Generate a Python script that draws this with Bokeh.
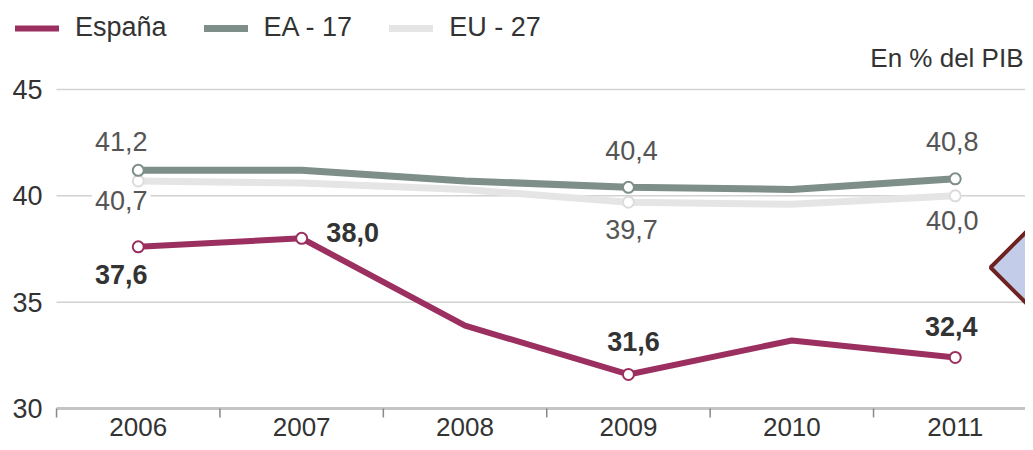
from bokeh.plotting import figure
from bokeh.models import ColumnDataSource, Legend, LegendItem, Label, Range1d
from bokeh.core.properties import value
from bokeh.embed import file_html
from bokeh.resources import INLINE

# ---------------- data ----------------
years = [2006, 2007, 2008, 2009, 2010, 2011]
espana = [37.6, 38.0, 33.9, 31.6, 33.2, 32.4]
ea17 = [41.2, 41.2, 40.7, 40.4, 40.3, 40.8]
eu27 = [40.7, 40.6, 40.3, 39.7, 39.6, 40.0]
espana_marked = [2006, 2007, 2009, 2011]
ea17_marked = [2006, 2009, 2011]
eu27_marked = [2006, 2009, 2011]
y_ticks = [30, 35, 40, 45]
series_names = ["España", "EA - 17", "EU - 27"]
unit_note = "En % del PIB"

# ---------------- styles ----------------
FONT = "Liberation Sans"
FS = "27px"
C_ES = "#9b3060"
C_EA = "#7e8e89"
C_EU = "#e5e5e5"
# label offsets (px) per marked point: (dx, dy), dy positive = down
off_es = [(-17, 28), (51, -6), (5, -33), (-4, -31)]
off_ea = [(-17, -29), (3, -37), (-3, -37)]
off_eu = [(-17, 20), (3, 27), (-3, 25)]

X0, X1 = 2005.5, 2011.43          # plotted span (category boundaries)
TICK_LEN = 0.42                   # tick mark length below baseline (y units)


def fmt(v):
    return f"{v:.1f}".replace(".", ",")


def marked(vals, marks, offs):
    xs = [y for y in years if y in marks]
    ys = [vals[years.index(y)] for y in xs]
    return ColumnDataSource(dict(
        x=xs, y=ys, t=[fmt(v) for v in ys],
        dx=[o[0] for o in offs], dy=[o[1] for o in offs]))


p = figure(width=1025, height=442, output_backend="svg", toolbar_location=None,
           x_range=Range1d(2005.157, X1), y_range=Range1d(28.401, 49.185),
           min_border_left=0, min_border_right=0, min_border_top=0,
           min_border_bottom=0)
p.outline_line_color = None
p.background_fill_color = "white"
p.border_fill_color = "white"
p.xaxis.visible = False
p.yaxis.visible = False
p.xgrid.grid_line_color = None
p.ygrid.grid_line_color = None

base = y_ticks[0]

# horizontal grid lines + baseline
grid_src = ColumnDataSource(dict(y=y_ticks[1:], x0=[X0] * 3, x1=[X1] * 3))
p.segment("x0", "y", "x1", "y", source=grid_src, line_color="#d2d2d2", line_width=1.5)
p.segment(X0, base, X1, base, line_color="#c4c4c4", line_width=3)

# x tick marks at category boundaries, labels at years
bounds = [y - 0.5 for y in years]
tick_src = ColumnDataSource(dict(x=bounds, y0=[base] * len(bounds),
                                 y1=[base - TICK_LEN] * len(bounds)))
p.segment("x", "y0", "x", "y1", source=tick_src, line_color="#888888", line_width=1.5)
xlab_src = ColumnDataSource(dict(x=years, y=[base] * len(years), t=[str(y) for y in years]))
p.text("x", "y", text="t", source=xlab_src, y_offset=19, text_align="center",
       text_baseline="middle", text_font=value(FONT), text_font_size="26px",
       text_color="#333333")

# y tick labels
ylab_src = ColumnDataSource(dict(x=[X0] * len(y_ticks), y=y_ticks, t=[str(v) for v in y_ticks]))
p.text("x", "y", text="t", source=ylab_src, x_offset=-14, text_align="right",
       text_baseline="middle", text_font=value(FONT), text_font_size=FS,
       text_color="#333333")

# decoration at the right edge
p.patch([2011.216, 2011.522, 2011.828, 2011.522], [36.63, 38.98, 36.63, 34.28],
        fill_color="#c3cde9", line_color="#6e2222", line_width=4)

# lines
r_eu = p.line(years, eu27, line_color=C_EU, line_width=7, line_join="round", line_cap="round")
r_ea = p.line(years, ea17, line_color=C_EA, line_width=7, line_join="round", line_cap="round")
r_es = p.line(years, espana, line_color=C_ES, line_width=6, line_join="round", line_cap="round")

s_eu = marked(eu27, eu27_marked, off_eu)
s_ea = marked(ea17, ea17_marked, off_ea)
s_es = marked(espana, espana_marked, off_es)

p.scatter("x", "y", source=s_eu, size=11, fill_color="white", line_color="#dcdcdc", line_width=2)
p.scatter("x", "y", source=s_ea, size=11, fill_color="white", line_color=C_EA, line_width=2)
p.scatter("x", "y", source=s_es, size=11, fill_color="white", line_color=C_ES, line_width=2)

for src, col, style in [(s_eu, "#555555", "normal"), (s_ea, "#555555", "normal"),
                        (s_es, "#333333", "bold")]:
    p.text("x", "y", text="t", source=src, x_offset="dx", y_offset="dy",
           text_align="center", text_baseline="middle",
           text_font=value(FONT), text_font_size=FS, text_font_style=style,
           text_color=col, background_fill_color="white", padding=3)

p.add_layout(Label(x=X1, y=46.5, text=unit_note, text_align="right",
                   text_baseline="middle", x_offset=-2, text_font=FONT,
                   text_font_size="26px", text_color="#333333"))

legend = Legend(items=[LegendItem(label=series_names[0], renderers=[r_es]),
                       LegendItem(label=series_names[1], renderers=[r_ea]),
                       LegendItem(label=series_names[2], renderers=[r_eu])],
                orientation="horizontal", location=(15, 399),
                glyph_width=44, glyph_height=26, label_height=26, label_standoff=16,
                spacing=37, padding=0, margin=0,
                border_line_color=None, background_fill_alpha=0,
                label_text_font=FONT, label_text_font_size=FS,
                label_text_color="#333333")
p.add_layout(legend, "center")

open("out.html", "w").write(file_html(p, INLINE))
